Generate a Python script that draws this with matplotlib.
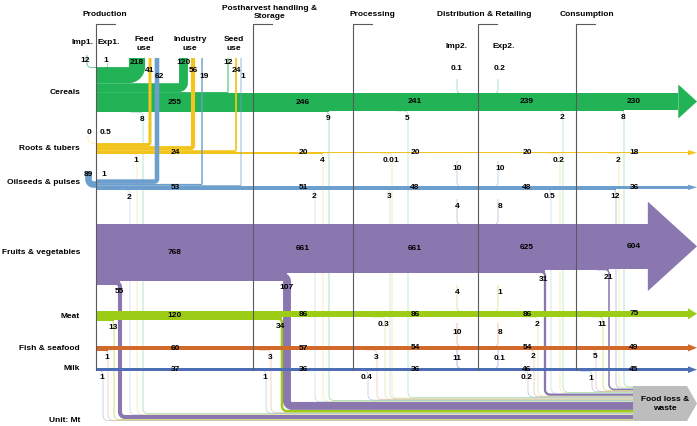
import numpy as np
import matplotlib
matplotlib.use("Agg")
from matplotlib import pyplot as plt
from matplotlib.patches import Polygon
from matplotlib.colors import to_rgb

plt.rcParams['font.family'] = ['Liberation Sans', 'DejaVu Sans']

# ---- Daten (Mt) ----
rows = ['Cereals', 'Roots & tubers', 'Oilseeds & pulses', 'Fruits & vegetables',
        'Meat', 'Fish & seafood', 'Milk']
stages = ['Production', 'Postharvest handling &\nStorage', 'Processing',
          'Distribution & Retailing', 'Consumption']

# Menge nach jeder Stufe
cereals = [255, 246, 241, 239, 230]
roots = [24, 20, 20, 20, 18]
oilseeds = [53, 51, 48, 48, 36]
fruits = [768, 661, 661, 625, 604]
meat = [120, 86, 86, 86, 75]
fish = [60, 57, 54, 54, 49]
milk = [37, 36, 36, 46, 45]

# Verluste je Stufe
cereals_loss = [8, 9, 5, 2, 8]
roots_loss = [1, 4, 0.01, 0.2, 2]
oilseeds_loss = [2, 2, 3, 0.5, 12]
fruits_loss = [55, 107, 0, 31, 21]
meat_loss = [13, 34, 0.3, 2, 11]
fish_loss = [1, 3, 3, 2, 5]
milk_loss = [1, 1, 0.4, 0.2, 1]

# Nutzung in der Produktion (cereals, roots, oilseeds)
feed_use = [218, 41, 62]
industry_use = [120, 56, 19]
seed_use = [12, 24, 1]
imp1 = [12, 0, 89]
exp1 = [1, 0.5, 1]

# Import / Export bei Distribution (None = keiner)
imp2 = [0.1, None, 10, 4, 4, 10, 11]
exp2 = [0.2, None, 10, 8, 1, 8, 0.1]

flows = [cereals, roots, oilseeds, fruits, meat, fish, milk]
losses = [cereals_loss, roots_loss, oilseeds_loss, fruits_loss, meat_loss, fish_loss, milk_loss]

# ---- Layout (Pixel) ----
S = 0.074  # px pro Mt
row_top = [93, 152, 186, 224, 311, 346, 368]
row_label_y = [93, 149, 183, 252, 316, 348, 369]
colors = ['#22b357', '#f3c51c', '#6c9fce', '#8a77b0', '#9dcc16', '#d0692a', '#4d6db5']
loss_x = [[143, 329, 408, 563, 624],
          [137, 323, 392, 560, 619],
          [130, 315, 390, 551, 616],
          [120, 287, 380, 545, 609],
          [114, 282, 385, 538, 603],
          [108, 271, 377, 534, 596],
          [103, 266, 368, 528, 592]]
stage_x = [96, 253, 353, 478, 576]
stage_label_x = [105, 270, 372, 484, 587]
value_x = [175, 303, 415, 527, 634]
up_x = [[137, 183.5, 228], [150, 193, 236], [157, 202, 241]]
up_label_y = [62, 71, 77]
X_END = 697
FS = 6


def light(c, f):
    r, g, b = to_rgb(c)
    return (r + (1 - r) * f, g + (1 - g) * f, b + (1 - b) * f)


def rounded(pts, radii):
    out = [pts[0]]
    for i in range(1, len(pts) - 1):
        p = np.array(pts[i], float)
        a = np.array(pts[i - 1], float)
        b = np.array(pts[i + 1], float)
        d1 = (p - a) / np.linalg.norm(p - a)
        d2 = (b - p) / np.linalg.norm(b - p)
        r = radii[i - 1]
        c = p - d1 * r + d2 * r
        t = np.linspace(0, 1, 14) * np.pi / 2
        arc = c + np.outer(np.cos(t), -d2 * r) + np.outer(np.sin(t), d1 * r)
        out.extend(arc.tolist())
    out.append(pts[-1])
    return np.array(out)


def flow(ax, pts, radii, w, color, z=1, alpha=1.0):
    p = rounded(pts, radii)
    ax.plot(p[:, 0], p[:, 1], lw=w * 0.72, color=color, alpha=alpha,
            solid_capstyle='butt', solid_joinstyle='round', zorder=z)


def fmt(v):
    return f'{v:g}'


fig = plt.figure(figsize=(6.97, 4.26), dpi=100)
ax = fig.add_axes([0, 0, 1, 1])
ax.set_xlim(0, 697)
ax.set_ylim(426, 0)
ax.axis('off')

# Hauptbaender mit Pfeilspitze
for i, (vals, loss) in enumerate(zip(flows, losses)):
    t_end = vals[-1] * S
    head_len = max(1.1 * t_end, 9)
    half = max(t_end, 2.6)
    xa = X_END - head_len
    xs = [stage_x[0]] + loss_x[i] + [xa]
    th = [vals[0] + loss[0]] + vals
    th = np.array(th + [th[-1]]) * S
    top = row_top[i]
    ax.fill_between(xs, top, top + th, step='post', color=colors[i], lw=0, zorder=2)
    yc = top + t_end / 2
    ax.add_patch(Polygon([(xa, yc - half), (X_END, yc), (xa, yc + half)],
                         closed=True, color=colors[i], lw=0, zorder=2))
    # Werte auf den Baendern
    for j in range(5):
        ax.text(value_x[j], top + vals[j] * S / 2, fmt(vals[j]), ha='center', va='center',
                fontsize=FS, fontweight='bold', zorder=6)
    ax.text(80, row_label_y[i], rows[i], ha='right', va='center', fontsize=FS,
            fontweight='bold', zorder=6)

# Verluste -> Food loss & waste
items = []
for i in range(7):
    for j in range(5):
        v = losses[i][j]
        if v <= 0:
            continue
        before = (flows[i][0] + losses[i][0]) if j == 0 else flows[i][j - 1]
        yb = row_top[i] + before * S
        items.append((loss_x[i][j], i, j, v, yb))
items.sort()
ycur = 421
for x, i, j, v, yb in items:
    w = max(v * S, 0.5)
    ybot = ycur - w / 2
    ycur -= w
    r1 = max(w / 2 + 0.5, 4)
    r2 = max(w / 2 + 1, 5)
    x0 = max(x - 12, 96.5)
    col = colors[i] if w > 1.5 else light(colors[i], 0.45)
    flow(ax, [(x0, yb - w / 2), (x, yb - w / 2), (x, ybot), (633, ybot)], [r1, r2], w, col, z=1)
    ax.text(x - 1, yb + 7, fmt(v), ha='center', va='center', fontsize=FS,
            fontweight='bold', zorder=6)

# Futter / Industrie / Saatgut
for k in range(3):
    uses = [feed_use[k], industry_use[k], seed_use[k]]
    y = row_top[k]
    for u, ux in reversed(list(zip(uses, up_x[k]))):
        w = max(u * S, 0.7)
        yc = y - w / 2
        y -= w
        flow(ax, [(96, yc), (ux, yc), (ux, 58)], [w / 2 + 0.5], w, colors[k], z=3)
        ax.text(ux + (2 if k == 2 else 0), up_label_y[k], fmt(u), ha='center', va='center',
                fontsize=FS, fontweight='bold', zorder=6)

# Import / Export in der Produktion
flow(ax, [(87, 55), (87, 67.5), (97, 67.5)], [4], max(imp1[0] * S, 0.8), light(colors[0], 0.3), z=1)
ax.plot([106.5, 106.5], [63, 68], lw=0.5, color=light(colors[0], 0.4), zorder=1)
flow(ax, [(88, 135), (88, 143), (97, 143)], [4], 0.5, light(colors[1], 0.5), z=1)
flow(ax, [(88.5, 172), (88.5, 184.5), (97, 184.5)], [5], imp1[2] * S, colors[2], z=1)
imp1_pos = [(85, 61), (89, 133), (88, 175)]
exp1_pos = [(106, 60), (105, 133), (104, 174)]
for k in range(3):
    ax.text(*imp1_pos[k], fmt(imp1[k]), ha='center', va='center', fontsize=FS,
            fontweight='bold', zorder=6)
    ax.text(*exp1_pos[k], fmt(exp1[k]), ha='center', va='center', fontsize=FS,
            fontweight='bold', zorder=6)

# Import / Export bei Distribution
stub_top = [79, None, 161, 199, 285, 323, 350]
label_y2 = [68, None, 169, 207, 293, 332, 358]
for i in range(7):
    if imp2[i] is None:
        continue
    top = row_top[i]
    col = light(colors[i], 0.45)
    w = max(imp2[i] * S, 0.7)
    flow(ax, [(457, stub_top[i]), (457, top + 0.5), (466, top + 0.5)], [4], w, col, z=1.5)
    w = max(exp2[i] * S, 0.7)
    flow(ax, [(489, top + 0.5), (498, top + 0.5), (498, stub_top[i])], [4], w, col, z=1.5)
    ax.text(457, label_y2[i], fmt(imp2[i]), ha='center', va='center', fontsize=FS,
            fontweight='bold', zorder=6)
    ax.text(500, label_y2[i], fmt(exp2[i]), ha='center', va='center', fontsize=FS,
            fontweight='bold', zorder=6)

# Stufenlinien und Ueberschriften
for j, sx in enumerate(stage_x):
    ax.plot([sx + 19, sx, sx], [24, 24, 370], color='#5a5a5a', lw=0.8, zorder=4)
ax.text(stage_label_x[0], 14, stages[0], ha='center', va='center', fontsize=FS, fontweight='bold')
ax.text(stage_label_x[1], 12, stages[1], ha='center', va='center', fontsize=FS,
        fontweight='bold', linespacing=1.2)
for j in range(2, 5):
    ax.text(stage_label_x[j], 15, stages[j], ha='center', va='center', fontsize=FS,
            fontweight='bold')

for txt, x, y in [('Imp1.', 82, 43), ('Exp1.', 109, 43), ('Feed\nuse', 144, 44),
                  ('Industry\nuse', 190, 44), ('Seed\nuse', 234, 44),
                  ('Imp2.', 456, 46), ('Exp2.', 504, 47)]:
    ax.text(x, y, txt, ha='center', va='center', fontsize=FS, fontweight='bold',
            linespacing=1.25)

ax.text(80, 420, 'Unit: Mt', ha='right', va='center', fontsize=FS, fontweight='bold')

# Food loss & waste Pfeil
ax.add_patch(Polygon([(633, 386), (687, 386), (697, 403.5), (687, 421), (633, 421)],
                     closed=True, color='#bdbdbd', lw=0, zorder=3))
ax.text(665, 404, 'Food loss &\nwaste', ha='center', va='center', fontsize=FS,
        fontweight='bold', linespacing=1.3, zorder=6)

fig.savefig('out.png', dpi=100)
